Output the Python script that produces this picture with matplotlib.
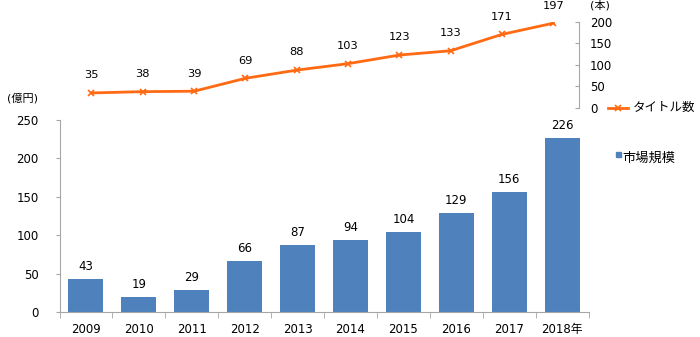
import matplotlib.pyplot as plt
import numpy as np

plt.rcParams['font.family'] = ['DejaVu Sans', 'Noto Sans CJK JP']
plt.rcParams['font.size'] = 8

# market size (100M yen) and number of titles per year
years = ["2009", "2010", "2011", "2012", "2013", "2014", "2015", "2016", "2017", "2018年"]
market_size = [43, 19, 29, 66, 87, 94, 104, 129, 156, 226]
titles = [35, 38, 39, 69, 88, 103, 123, 133, 171, 197]

bar_color = "#4F81BD"
line_color = "#FF6A13"
spine_color = "#A6A6A6"

fig = plt.figure(figsize=(7, 3.37), dpi=100)

# bar chart (bottom)
ax = fig.add_axes([0.085, 0.074, 0.756, 0.570])
x = np.arange(len(years))
bars = ax.bar(x, market_size, width=0.66, color=bar_color)
for b, v in zip(bars, market_size):
    ax.text(b.get_x() + b.get_width() / 2, v + 8, str(v), ha="center", va="bottom", fontsize=8.5)
ax.set_xlim(-0.5, len(years) - 0.5)
ax.set_ylim(0, 250)
ax.set_yticks([0, 50, 100, 150, 200, 250])
ax.set_xticks(x)
ax.set_xticklabels(years, fontsize=8.5)
ax.set_xticks(np.arange(-0.5, len(years), 1), minor=True)
ax.tick_params(axis="x", which="major", length=0, pad=8)
ax.tick_params(axis="x", which="minor", length=4, color=spine_color, direction="out")
ax.tick_params(axis="y", length=3, color=spine_color, direction="out", pad=12, labelsize=8.5)
for s in ["top", "right"]:
    ax.spines[s].set_visible(False)
ax.spines["left"].set_color(spine_color)
ax.spines["bottom"].set_color(spine_color)
fig.text(0.010, 0.708, "(億円)", fontsize=8, va="center")

# legend for bars
fig.patches.append(plt.Rectangle((0.880, 0.533), 0.007, 0.0148, transform=fig.transFigure,
                                 color=bar_color, figure=fig))
fig.text(0.889, 0.531, "市場規模", fontsize=9.5, va="center")

# line chart (top)
ax2 = fig.add_axes([0.094, 0.6795, 0.733, 0.2555])
ax2.plot(x, titles, color=line_color, lw=2, marker="x", ms=4, mew=1.2)
for xi, v in zip(x, titles):
    ax2.text(xi, v + 41, str(v), ha="center", va="center", fontsize=8.2)
ax2.set_xlim(-0.5, len(years) - 0.5)
ax2.set_ylim(0, 200)
ax2.set_yticks([0, 50, 100, 150, 200])
ax2.yaxis.tick_right()
ax2.tick_params(axis="y", length=3, color=spine_color, direction="in", pad=8, labelsize=8.5)
ax2.set_xticks([])
for s in ["top", "left", "bottom"]:
    ax2.spines[s].set_visible(False)
ax2.spines["right"].set_color(spine_color)
ax2.patch.set_alpha(0)
fig.text(0.843, 0.985, "(本)", fontsize=8, va="center")

# legend for line
ax2.plot([1.057, 1.096], [0, 0], transform=ax2.get_yaxis_transform(), color=line_color,
         lw=2, clip_on=False)
ax2.plot([1.0765], [0], transform=ax2.get_yaxis_transform(), color=line_color, marker="x",
         ms=4, mew=1.2, clip_on=False)
fig.text(0.904, 0.68, "タイトル数", fontsize=9, va="center")

fig.savefig("out.png", dpi=100)
